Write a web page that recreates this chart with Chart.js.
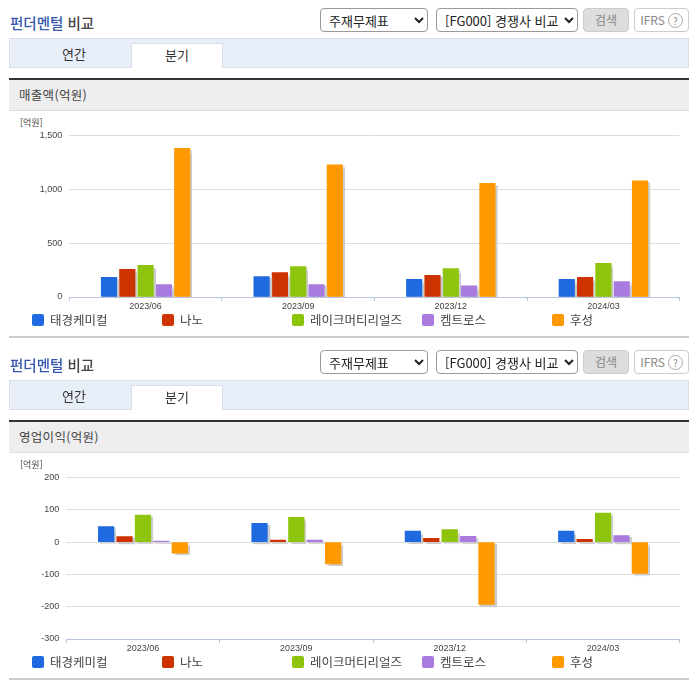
<!DOCTYPE html>
<html lang="ko">
<head>
<meta charset="utf-8">
<script src="https://cdn.jsdelivr.net/npm/chart.js@4/dist/chart.umd.js"></script>
<style>
    html, body { margin: 0; padding: 0; background: #fff; }
    body { width: 696px; height: 684px; position: relative; overflow: hidden; font-family: "Noto Sans CJK KR", sans-serif; color: #333; }
    .panel { position: absolute; left: 0; width: 696px; height: 342px; }
    .panel > * { position: absolute; box-sizing: border-box; }
    .title { left: 10px; top: 13px; font-size: 14.5px; line-height: 20px; font-weight: 500; color: #444; }
    .title b { font-weight: 500; color: #3558ad; }
    select { height: 24px; top: 8px; font: 13px "Noto Sans CJK KR", sans-serif; color: #222; background: #fff; border: 1px solid #999; border-radius: 4px; padding-left: 4px; }
    .btn { top: 8px; height: 24px; border-radius: 4px; font-size: 12px; line-height: 22px; text-align: center; color: #888; }
    .btn em { display: inline-block; width: 13px; height: 13px; margin-left: 3px; border: 1px solid #aaa; border-radius: 50%; font-style: normal; font-size: 10px; line-height: 13px; vertical-align: 0; }
    .tabs { left: 9px; top: 38px; width: 680px; height: 30px; background: #e8eef8; border: 1px solid #d8dfea; }
    .tab { top: 43px; height: 25px; font-size: 13px; line-height: 22px; text-align: center; color: #333; }
    .tab.on { background: #fff; border: 1px solid #d8dfea; border-bottom: 0; }
    .head { left: 9px; top: 78px; width: 680px; height: 33px; background: #eee; border-top: 2px solid #333; border-bottom: 1px solid #ddd; font-size: 12.5px; line-height: 30px; padding-left: 10px; letter-spacing: 0.3px; color: #444; }
    .unit { left: 20px; top: 117px; font-size: 9px; line-height: 12px; color: #444; }
    canvas { left: 0; top: 111px; }
    .legend { left: 0; top: 310px; width: 696px; height: 20px; }
    .legend span { position: absolute; top: 0; font-size: 12.5px; line-height: 20px; color: #444; white-space: nowrap; }
    .legend i { position: absolute; top: 4px; width: 12px; height: 12px; border-radius: 2px; }
    .rule { left: 9px; top: 336px; width: 680px; height: 2px; background: #ccc; }
</style>
</head>
<body>
<div id="root"></div>
<script>
const categories = ['2023/06', '2023/09', '2023/12', '2024/03'];
const seriesNames = ['태경케미컬', '나노', '레이크머티리얼즈', '켐트로스', '후성'];
const seriesColors = ['#1f6ae0', '#cc3300', '#8ec50c', '#a97bde', '#ff9900'];

// 매출액(억원)
const salesTaekyung = [183, 190, 164, 164];
const salesNano = [258, 227, 201, 183];
const salesLake = [295, 283, 264, 313];
const salesChem = [115, 115, 105, 143];
const salesFoosung = [1381, 1228, 1057, 1080];

// 영업이익(억원)
const profitTaekyung = [48, 58, 34, 34];
const profitNano = [17, 6, 12, 9];
const profitLake = [84, 77, 39, 90];
const profitChem = [3, 6, 18, 20];
const profitFoosung = [-34, -68, -193, -97];

// Gray shadow to the lower right of every bar
const barShadow = {
    id: 'barShadow',
    beforeDatasetsDraw(chart) {
        const ctx = chart.ctx;
        ctx.save();
        ctx.shadowColor = '#ccc';
        ctx.shadowOffsetX = 2;
        ctx.shadowOffsetY = 2;
        ctx.shadowBlur = 1;
    },
    afterDatasetsDraw(chart) {
        chart.ctx.restore();
    }
};

function addPanel(top, heading, values, yMin, yMax, yStep, plotLeft) {
    const panel = document.createElement('div');
    panel.className = 'panel';
    panel.style.top = top + 'px';
    panel.innerHTML = `
        <div class="title"><b>펀더멘털</b> 비교</div>
        <select style="left:320px;width:108px"><option>주재무제표</option></select>
        <select style="left:436px;width:142px"><option>[FG000] 경쟁사 비교</option></select>
        <div class="btn" style="left:583px;width:46px;background:#ddd;border:1px solid #ccc">검색</div>
        <div class="btn" style="left:634px;width:55px;background:#fff;border:1px solid #ccc">IFRS<em>?</em></div>
        <div class="tabs"></div>
        <div class="tab" style="left:17px;width:114px">연간</div>
        <div class="tab on" style="left:131px;width:92px">분기</div>
        <div class="head">${heading}</div>
        <div class="unit">[억원]</div>
        <canvas width="696" height="210"></canvas>
        <div class="legend"></div>
        <div class="rule"></div>`;
    document.getElementById('root').appendChild(panel);

    const legend = panel.querySelector('.legend');
    seriesNames.forEach((name, i) => {
        const left = 32 + i * 130;
        legend.insertAdjacentHTML('beforeend',
            `<i style="left:${left}px;background:${seriesColors[i]}"></i><span style="left:${left + 18}px">${name}</span>`);
    });

    return new Chart(panel.querySelector('canvas'), {
        type: 'bar',
        data: {
            labels: categories,
            datasets: seriesNames.map((name, i) => ({
                label: name,
                data: values[i],
                backgroundColor: seriesColors[i],
                borderWidth: 0,
                inflateAmount: 0.3,
                categoryPercentage: 0.6,
                barPercentage: 0.85
            }))
        },
        plugins: [barShadow],
        options: {
            responsive: false,
            animation: false,
            devicePixelRatio: 1,
            layout: { padding: { top: 24.5, right: 16.3, left: 0, bottom: 0 } },
            plugins: { legend: { display: false }, tooltip: { enabled: false } },
            scales: {
                x: {
                    afterFit: scale => { scale.height = 24; },
                    border: { color: '#b9c6dd' },
                    grid: { drawOnChartArea: false, color: '#b9c6dd', tickLength: 4 },
                    ticks: { color: '#444', font: { size: 9, family: 'Arial, "Liberation Sans", sans-serif' }, padding: 0, maxRotation: 0 }
                },
                y: {
                    min: yMin,
                    max: yMax,
                    afterFit: scale => { scale.width = plotLeft; },
                    border: { display: false },
                    grid: { color: '#ddd', drawTicks: false },
                    ticks: {
                        stepSize: yStep,
                        color: '#444',
                        padding: 7,
                        font: { size: 9, family: 'Arial, "Liberation Sans", sans-serif' },
                        callback: v => v.toLocaleString('en-US')
                    }
                }
            }
        }
    });
}

const salesValues = [salesTaekyung, salesNano, salesLake, salesChem, salesFoosung];
const profitValues = [profitTaekyung, profitNano, profitLake, profitChem, profitFoosung];

addPanel(0, '매출액(억원)', salesValues, 0, 1500, 500, 69.3);
addPanel(342, '영업이익(억원)', profitValues, -300, 200, 100, 66.3);
</script>
</body>
</html>
